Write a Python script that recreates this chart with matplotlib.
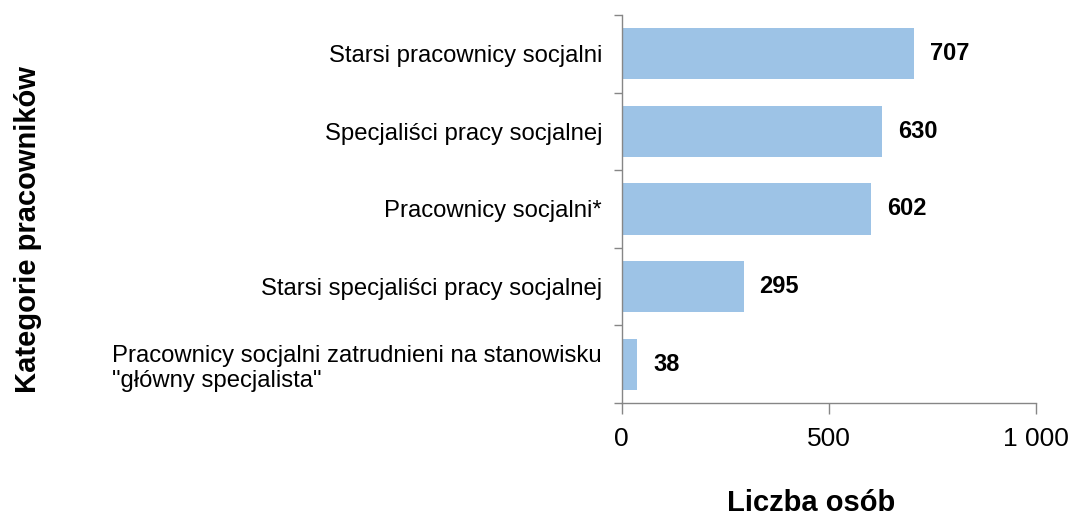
import numpy as np
import matplotlib.pyplot as plt
from matplotlib.ticker import FixedLocator, FuncFormatter

plt.rcParams['font.family'] = ['Liberation Sans', 'DejaVu Sans']

categories = [
    'Starsi pracownicy socjalni',
    'Specjaliści pracy socjalnej',
    'Pracownicy socjalni*',
    'Starsi specjaliści pracy socjalnej',
    'Pracownicy socjalni zatrudnieni na stanowisku\n"główny specjalista"',
]
values = [707, 630, 602, 295, 38]
x_ticks = [0, 500, 1000]

bar_color = '#9DC3E6'
axis_color = '#868686'

fig = plt.figure(figsize=(10.75, 5.22), dpi=100)
ax = fig.add_axes([621.5 / 1075, 1 - 403 / 522, 414 / 1075, 388 / 522])

# top category first
pos = np.arange(len(categories))[::-1]
ax.barh(pos, values, height=0.66, color=bar_color, zorder=2)

for p, v in zip(pos, values):
    ax.annotate(f'{v}', xy=(v, p), xytext=(11.5, 0), textcoords='offset points',
                ha='left', va='center', fontsize=17, fontweight='bold')

ax.set_xlim(0, 1000)
ax.set_ylim(-0.5, len(categories) - 0.5)

for side in ('top', 'right'):
    ax.spines[side].set_visible(False)
for side in ('left', 'bottom'):
    ax.spines[side].set_color(axis_color)
    ax.spines[side].set_linewidth(1.0)

ax.set_yticks(pos)
ax.set_yticklabels(categories, fontsize=17.2, multialignment='left')
ax.tick_params(axis='y', which='major', length=0, pad=14)
ax.yaxis.set_minor_locator(FixedLocator(np.arange(-0.5, len(categories), 1.0)))
ax.tick_params(axis='y', which='minor', length=6, width=1.0, color=axis_color, direction='out')

ax.set_xticks(x_ticks)
ax.xaxis.set_major_formatter(FuncFormatter(lambda v, _: f'{int(v):,}'.replace(',', ' ')))
ax.tick_params(axis='x', length=8, width=1.0, color=axis_color, labelsize=19, pad=9)

fig.text(28 / 1075, 1 - 230 / 522, 'Kategorie pracowników', rotation=90,
         ha='center', va='center', fontsize=21, fontweight='bold')
fig.text(811 / 1075, 1 - 503 / 522, 'Liczba osób',
         ha='center', va='center', fontsize=21, fontweight='bold')

fig.savefig('out.png', dpi=100)
